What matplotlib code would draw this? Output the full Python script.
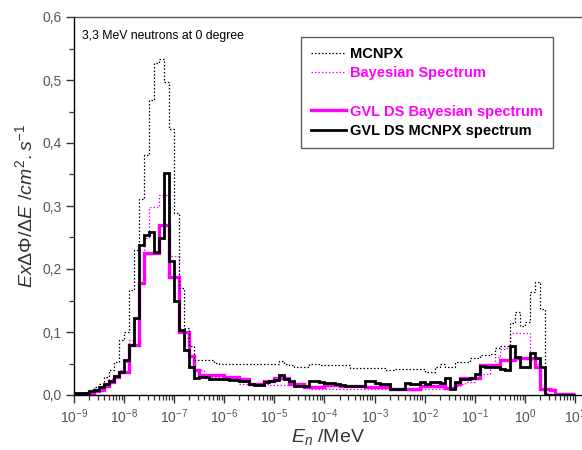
import numpy as np
import matplotlib
matplotlib.use("Agg")
import matplotlib.pyplot as plt
from matplotlib.ticker import FixedLocator, FuncFormatter, MultipleLocator, LogLocator

plt.rcParams['font.family'] = ['Liberation Sans', 'DejaVu Sans']
plt.rcParams['mathtext.fontset'] = 'custom'
plt.rcParams['mathtext.rm'] = 'Liberation Sans'
plt.rcParams['mathtext.it'] = 'Liberation Sans:italic'
plt.rcParams['mathtext.bf'] = 'Liberation Sans:bold'

# bin edges in log10(E/MeV): 0.1-decade bins from 1e-9 to 1e1 MeV
log_edges = np.round(np.arange(-9.0, 1.0001, 0.1), 2)

# GVL DS MCNPX spectrum (black solid)
gvl_mcnpx = [
    0.003, 0.003, 0.003, 0.006, 0.008, 0.012, 0.017, 0.022, 0.030, 0.036,
    0.056, 0.080, 0.122, 0.238, 0.254, 0.259, 0.227, 0.249, 0.352, 0.212,
    0.149, 0.103, 0.072, 0.045, 0.027, 0.029, 0.028, 0.026, 0.026, 0.025,
    0.025, 0.024, 0.024, 0.022, 0.022, 0.017, 0.016, 0.016, 0.021, 0.023,
    0.024, 0.031, 0.026, 0.022, 0.015, 0.014, 0.014, 0.023, 0.022, 0.020,
    0.019, 0.019, 0.018, 0.016, 0.015, 0.015, 0.014, 0.014, 0.022, 0.022,
    0.019, 0.018, 0.017, 0.010, 0.010, 0.010, 0.019, 0.018, 0.017, 0.021,
    0.018, 0.021, 0.021, 0.019, 0.027, 0.010, 0.021, 0.025, 0.025, 0.027,
    0.033, 0.046, 0.045, 0.044, 0.044, 0.042, 0.040, 0.078, 0.061, 0.045,
    0.045, 0.066, 0.058, 0.044, 0.000, 0.000, 0.000, 0.000, 0.000, 0.000,
]

# GVL DS Bayesian spectrum (magenta solid)
gvl_bayes = [
    0.000, 0.000, 0.001, 0.002, 0.006, 0.008, 0.015, 0.020, 0.028, 0.036,
    0.036, 0.080, 0.080, 0.178, 0.225, 0.225, 0.225, 0.270, 0.270, 0.187,
    0.187, 0.100, 0.100, 0.062, 0.040, 0.032, 0.032, 0.032, 0.032, 0.032,
    0.028, 0.028, 0.028, 0.026, 0.026, 0.018, 0.018, 0.018, 0.023, 0.023,
    0.027, 0.027, 0.027, 0.018, 0.018, 0.018, 0.013, 0.013, 0.013, 0.013,
    0.016, 0.016, 0.016, 0.015, 0.015, 0.015, 0.015, 0.015, 0.013, 0.013,
    0.013, 0.012, 0.012, 0.009, 0.009, 0.009, 0.009, 0.009, 0.009, 0.015,
    0.015, 0.015, 0.015, 0.015, 0.011, 0.011, 0.018, 0.027, 0.027, 0.027,
    0.027, 0.047, 0.047, 0.047, 0.047, 0.056, 0.056, 0.056, 0.058, 0.058,
    0.058, 0.058, 0.045, 0.009, 0.009, 0.008, 0.002, 0.001, 0.001, 0.001,
]

# MCNPX (black dotted)
mcnpx = [
    0.002, 0.003, 0.005, 0.008, 0.012, 0.018, 0.028, 0.040, 0.053, 0.087,
    0.100, 0.166, 0.230, 0.311, 0.381, 0.468, 0.527, 0.533, 0.497, 0.423,
    0.289, 0.170, 0.106, 0.077, 0.055, 0.055, 0.055, 0.055, 0.051, 0.049,
    0.049, 0.049, 0.049, 0.049, 0.049, 0.049, 0.050, 0.050, 0.049, 0.049,
    0.049, 0.054, 0.050, 0.048, 0.045, 0.045, 0.045, 0.050, 0.050, 0.048,
    0.048, 0.048, 0.047, 0.047, 0.047, 0.043, 0.043, 0.043, 0.043, 0.043,
    0.043, 0.043, 0.039, 0.039, 0.042, 0.041, 0.041, 0.041, 0.041, 0.041,
    0.037, 0.037, 0.045, 0.050, 0.045, 0.045, 0.053, 0.052, 0.053, 0.058,
    0.058, 0.063, 0.063, 0.065, 0.074, 0.077, 0.077, 0.114, 0.132, 0.110,
    0.116, 0.164, 0.180, 0.137, 0.000, 0.000, 0.000, 0.000, 0.000, 0.000,
]

# Bayesian Spectrum (magenta dotted)
bayes = [
    0.001, 0.002, 0.003, 0.005, 0.008, 0.012, 0.018, 0.025, 0.030, 0.040,
    0.052, 0.087, 0.120, 0.198, 0.250, 0.299, 0.299, 0.317, 0.317, 0.220,
    0.220, 0.105, 0.090, 0.060, 0.040, 0.040, 0.028, 0.028, 0.028, 0.028,
    0.028, 0.028, 0.028, 0.018, 0.018, 0.018, 0.018, 0.018, 0.018, 0.016,
    0.016, 0.016, 0.016, 0.016, 0.016, 0.016, 0.016, 0.009, 0.009, 0.009,
    0.009, 0.009, 0.009, 0.009, 0.009, 0.009, 0.009, 0.009, 0.009, 0.009,
    0.009, 0.009, 0.009, 0.008, 0.008, 0.008, 0.008, 0.008, 0.008, 0.010,
    0.010, 0.010, 0.010, 0.010, 0.010, 0.010, 0.015, 0.018, 0.020, 0.020,
    0.025, 0.033, 0.033, 0.045, 0.060, 0.073, 0.075, 0.099, 0.099, 0.099,
    0.099, 0.055, 0.050, 0.008, 0.003, 0.000, 0.000, 0.000, 0.000, 0.000,
]

yticks = [0.0, 0.1, 0.2, 0.3, 0.4, 0.5, 0.6]
xdecades = list(range(-9, 2))

edges = 10.0 ** log_edges
MAG = '#FF00FF'

fig = plt.figure(figsize=(5.82, 4.50), dpi=100)
ax = fig.add_axes([74 / 582, 1 - 395 / 450, 1 - 74 / 582, (395 - 17) / 450])

h_bayes_sol = ax.stairs(gvl_bayes, edges, baseline=None, color=MAG, lw=2.4,
                        label='GVL DS Bayesian spectrum', zorder=2)
h_bayes = ax.stairs(bayes, edges, baseline=None, color=MAG, lw=0.9,
                    linestyle=(0, (1.2, 1.6)), label='Bayesian Spectrum', zorder=3)
h_mcnpx = ax.stairs(mcnpx, edges, baseline=None, color='black', lw=0.9,
                    linestyle=(0, (1.2, 1.6)), label='MCNPX', zorder=3)
h_mcnpx_sol = ax.stairs(gvl_mcnpx, edges, baseline=None, color='black', lw=2.0,
                        label='GVL DS MCNPX spectrum', zorder=4)

ax.set_xscale('log')
ax.set_xlim(1e-9, 10 ** 1.14)
ax.set_ylim(0, 0.6)

ax.xaxis.set_major_locator(FixedLocator([10.0 ** d for d in xdecades]))
ax.xaxis.set_minor_locator(LogLocator(base=10, subs=np.arange(2, 10), numticks=30))
ax.xaxis.set_major_formatter(FuncFormatter(lambda v, p: r'$\mathregular{10^{%d}}$' % round(np.log10(v))))
ax.yaxis.set_major_locator(FixedLocator(yticks))
ax.yaxis.set_minor_locator(MultipleLocator(0.05))
ax.yaxis.set_major_formatter(FuncFormatter(lambda v, p: ('%.1f' % v).replace('.', ',')))

ax.tick_params(which='major', direction='out', length=6, width=1.0, color='#333333',
               labelsize=10, labelcolor='#555555', pad=3)
ax.tick_params(which='minor', direction='out', length=3.5, width=0.9, color='#333333')
ax.spines['right'].set_visible(False)
for s in ['left', 'bottom', 'top']:
    ax.spines[s].set_linewidth(1.0)
ax.spines['top'].set_color('#555555')

ax.set_ylabel(r'$Ex\Delta\Phi/\Delta E\ /cm^{2}.s^{-1}$', fontsize=14, color='#333333', labelpad=4)
ax.set_xlabel(r'$E_{n}$ /MeV', fontsize=14, color='#333333', labelpad=1)

ax.text(8 / 508, 1 - 13 / 378, '3,3 MeV neutrons at 0 degree', transform=ax.transAxes,
        fontsize=8.8, va='top', ha='left', color='black')

blank, = ax.plot([], [], color='none', label=' ')
leg = ax.legend([h_mcnpx, h_bayes, blank, h_bayes_sol, h_mcnpx_sol],
                ['MCNPX', 'Bayesian Spectrum', ' ', 'GVL DS Bayesian spectrum', 'GVL DS MCNPX spectrum'],
                loc='upper left', bbox_to_anchor=((301 - 74) / 508, 1 - (37 - 17) / 378),
                bbox_transform=ax.transAxes,
                frameon=True, fancybox=False, edgecolor='#333333', fontsize=10.5,
                handlelength=2.4, handletextpad=0.25, labelspacing=0.35,
                borderpad=0.7, borderaxespad=0)
leg.get_frame().set_linewidth(1.0)
for t, c in zip(leg.get_texts(), ['black', MAG, 'black', MAG, 'black']):
    t.set_color(c)
    t.set_fontweight('bold')

fig.savefig('out.png', dpi=100)
